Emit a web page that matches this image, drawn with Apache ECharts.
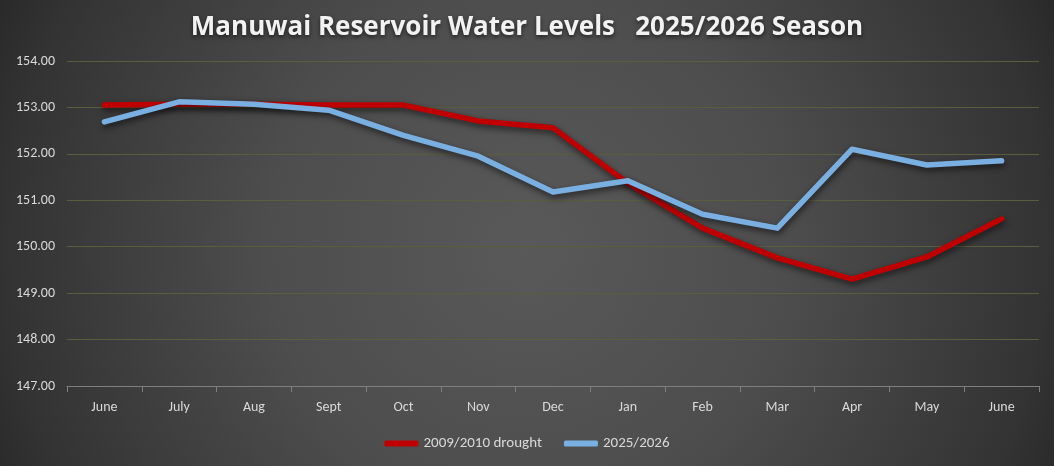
<!DOCTYPE html>
<html><head><meta charset="utf-8">
<script src="https://cdn.jsdelivr.net/npm/echarts@6/dist/echarts.min.js"></script>
<style>html,body{margin:0;padding:0;background:#333;}#c{width:1054px;height:466px;}</style>
</head><body><div id="c"></div>
<script>
const categories = ['June','July','Aug','Sept','Oct','Nov','Dec','Jan','Feb','Mar','Apr','May','June'];
const drought2009 = [153.05,153.07,153.07,153.05,153.05,152.71,152.56,151.37,150.40,149.76,149.30,149.78,150.60];
const season2025 = [152.69,153.12,153.07,152.94,152.40,151.95,151.18,151.42,150.70,150.40,152.10,151.76,151.85];
const yTicks = {min:147, max:154, interval:1};

const font = "Carlito, 'Liberation Sans Narrow', 'Open Sans', sans-serif";
const chart = echarts.init(document.getElementById('c'));
const lineShadow = {shadowColor:'rgba(0,0,0,0.6)', shadowBlur:6, shadowOffsetY:3, shadowOffsetX:1};
chart.setOption({
  backgroundColor: {type:'radial', x:0.5, y:0.53, r:1.24, colorStops:[
    {offset:0,color:'#595959'},{offset:0.45,color:'#4d4d4d'},{offset:0.9,color:'#333333'},{offset:1,color:'#2a2a2a'}]},
  title: {text:'Manuwai Reservoir Water Levels   2025/2026 Season', left:'center', top:10,
    textStyle:{color:'#f2f2f2', fontSize:26, fontWeight:'bold', fontFamily:"'Open Sans', sans-serif",
      textShadowColor:'rgba(0,0,0,0.6)', textShadowBlur:4, textShadowOffsetY:2}},
  grid: {left:67, right:15, top:61, bottom:80},
  legend: {bottom:10, left:'center', itemWidth:34, itemHeight:6, itemGap:22,
    textStyle:{color:'#d9d9d9', fontSize:15, fontFamily:font},
    data:[{name:'2009/2010 drought', icon:'roundRect'},{name:'2025/2026', icon:'roundRect'}]},
  xAxis: {type:'category', data:categories, boundaryGap:true,
    axisLine:{lineStyle:{color:'#7f7f7f'}},
    axisTick:{show:true, inside:false, length:6, lineStyle:{color:'#7f7f7f'}},
    axisLabel:{color:'#d9d9d9', fontSize:14, margin:14, fontFamily:font},
    splitLine:{show:false}},
  yAxis: {type:'value', min:yTicks.min, max:yTicks.max, interval:yTicks.interval,
    axisLine:{show:false}, axisTick:{show:false},
    axisLabel:{color:'#d9d9d9', fontSize:14, margin:12, fontFamily:font, formatter:v=>v.toFixed(2)},
    splitLine:{lineStyle:{color:'#5c5c3e', width:1}}},
  series: [
    {name:'2009/2010 drought', type:'line', data:drought2009, symbol:'none', smooth:false,
      lineStyle:Object.assign({color:'#c00000', width:5.5, cap:'round', join:'round'}, lineShadow),
      itemStyle:{color:'#c00000'}},
    {name:'2025/2026', type:'line', data:season2025, symbol:'none', smooth:false,
      lineStyle:Object.assign({color:'#7aafe2', width:5.5, cap:'round', join:'round'}, lineShadow),
      itemStyle:{color:'#7aafe2'}}
  ]
});
</script></body></html>
